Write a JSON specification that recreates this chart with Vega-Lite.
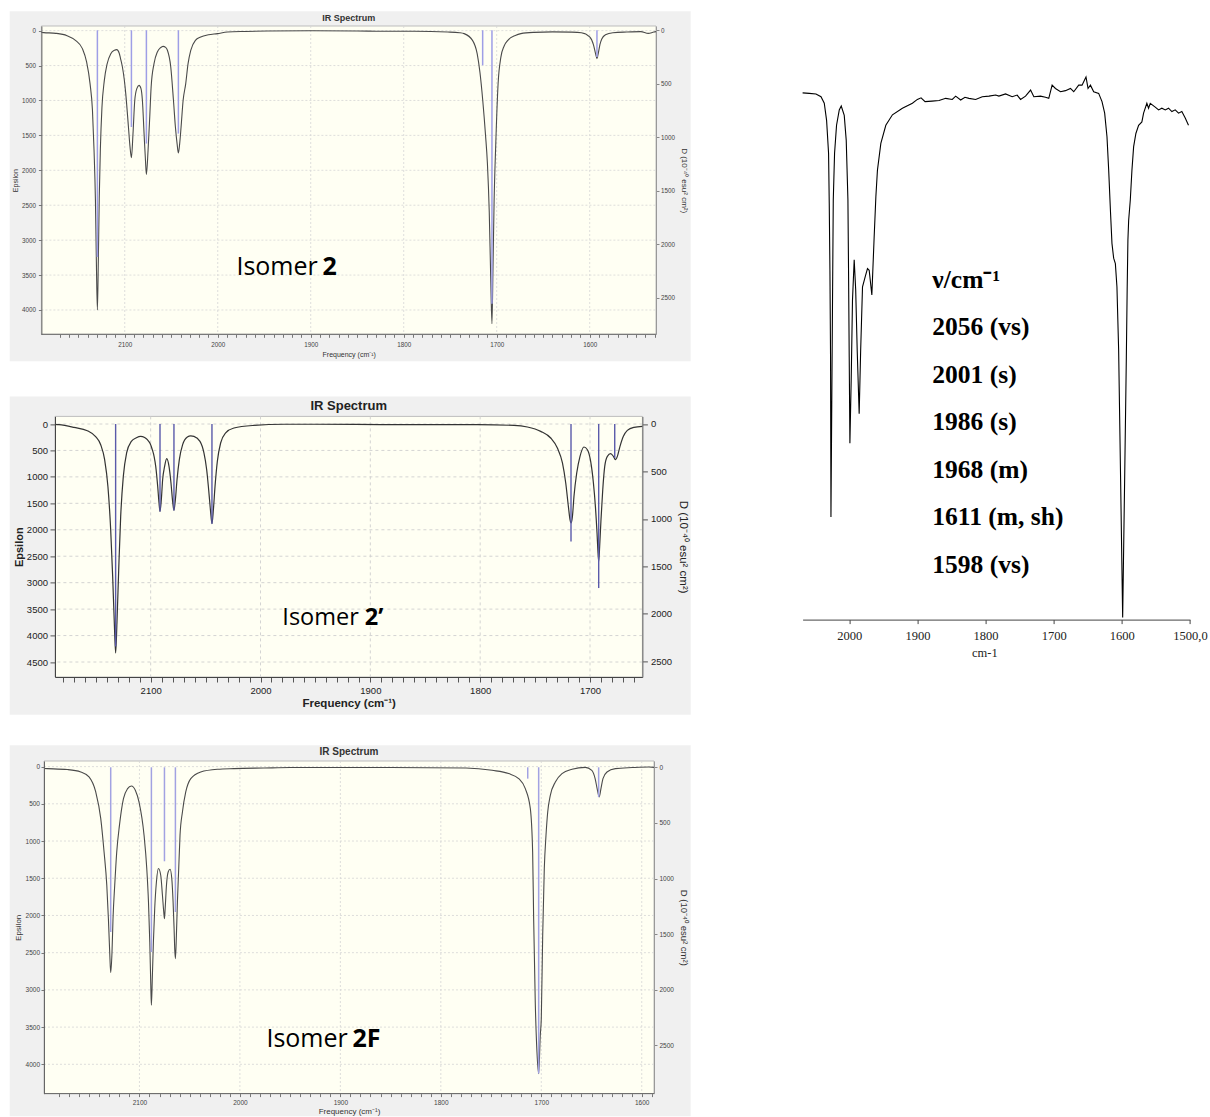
{
  "$schema": "https://vega.github.io/schema/vega-lite/v6.json",
  "background": "white",
  "padding": {"left": 9, "top": 11, "right": 0, "bottom": 0},
  "config": {
    "view": {"stroke": null},
    "axis": {"labelFont": "Liberation Sans", "titleFont": "Liberation Sans"},
    "title": {"font": "Liberation Sans"}
  },
  "datasets": {
    "one": [{}],
    "p1c": [
      {"f":2189.6,"eps":26},{"f":2187,"eps":29},{"f":2174,"eps":39},{"f":2162,"eps":72},{"f":2153,"eps":139},{"f":2145.5,"eps":258},{"f":2141,"eps":449},{"f":2137.3,"eps":759},{"f":2134.7,"eps":1141},{"f":2133,"eps":1714},{"f":2131.5,"eps":2430},{"f":2130.4,"eps":3384},{"f":2129.4,"eps":4000},{"f":2128.4,"eps":3300},{"f":2127.4,"eps":2400},{"f":2126.2,"eps":1700},{"f":2124.5,"eps":1100},{"f":2122,"eps":720},{"f":2119,"eps":480},{"f":2115,"eps":330},{"f":2111,"eps":280},{"f":2108.6,"eps":272},{"f":2106,"eps":320},{"f":2104.5,"eps":400},{"f":2102.5,"eps":521},{"f":2100.5,"eps":700},{"f":2098.9,"eps":902},{"f":2096,"eps":1380},{"f":2094.3,"eps":1666},{"f":2092.8,"eps":1820},{"f":2091.1,"eps":1475},{"f":2089.2,"eps":998},{"f":2087,"eps":830},{"f":2084.6,"eps":784},{"f":2082.5,"eps":830},{"f":2081,"eps":998},{"f":2079.2,"eps":1475},{"f":2077.7,"eps":1857},{"f":2076.7,"eps":2060},{"f":2074.9,"eps":1714},{"f":2073.1,"eps":1237},{"f":2071.6,"eps":807},{"f":2068.5,"eps":472},{"f":2064.9,"eps":306},{"f":2061.5,"eps":245},{"f":2058.8,"eps":225},{"f":2056,"eps":240},{"f":2054.1,"eps":282},{"f":2050.5,"eps":521},{"f":2047.6,"eps":998},{"f":2045.5,"eps":1380},{"f":2043.7,"eps":1618},{"f":2042.3,"eps":1753},{"f":2040.9,"eps":1618},{"f":2039.4,"eps":1380},{"f":2037.2,"eps":998},{"f":2034.4,"eps":759},{"f":2031.9,"eps":472},{"f":2029,"eps":282},{"f":2024,"eps":139},{"f":2018.3,"eps":92},{"f":2010,"eps":60},{"f":2000.3,"eps":43},{"f":1989.6,"eps":20},{"f":1970,"eps":12},{"f":1946.6,"eps":6},{"f":1900,"eps":3},{"f":1850,"eps":5},{"f":1824,"eps":10},{"f":1788.6,"eps":10},{"f":1752.7,"eps":20},{"f":1740,"eps":30},{"f":1735,"eps":43},{"f":1726,"eps":140},{"f":1721,"eps":330},{"f":1718,"eps":600},{"f":1715,"eps":1000},{"f":1712,"eps":1500},{"f":1710,"eps":1900},{"f":1708,"eps":2600},{"f":1706.5,"eps":3500},{"f":1705.1,"eps":4198},{"f":1704,"eps":3400},{"f":1702.8,"eps":2450},{"f":1701,"eps":1620},{"f":1698.5,"eps":760},{"f":1695.5,"eps":380},{"f":1692,"eps":220},{"f":1688,"eps":139},{"f":1680,"eps":70},{"f":1674,"eps":43},{"f":1660,"eps":25},{"f":1640,"eps":18},{"f":1620,"eps":22},{"f":1609,"eps":30},{"f":1600,"eps":90},{"f":1596,"eps":200},{"f":1593.5,"eps":340},{"f":1592.2,"eps":401},{"f":1591,"eps":340},{"f":1589,"eps":200},{"f":1587,"eps":120},{"f":1583,"eps":60},{"f":1575,"eps":30},{"f":1560,"eps":20},{"f":1545,"eps":15},{"f":1537,"eps":40},{"f":1531,"eps":20},{"f":1528.7,"eps":15}
    ],
    "p1s": [
      {"f":2129.4,"d":2117},{"f":2092.8,"d":903},{"f":2076.7,"d":1058},{"f":2042.3,"d":965},{"f":1715.1,"d":327},{"f":1705.1,"d":2553},{"f":1592.2,"d":249}
    ],
    "p1gx": [{"v":2100},{"v":2000},{"v":1900},{"v":1800},{"v":1700},{"v":1600}],
    "p1gy": [{"v":0},{"v":500},{"v":1000},{"v":1500},{"v":2000},{"v":2500},{"v":3000},{"v":3500},{"v":4000}],
    "p2c": [
      {"f":2187,"eps":8},{"f":2183.5,"eps":13},{"f":2169.8,"eps":64},{"f":2157.6,"eps":127},{"f":2150.1,"eps":240},{"f":2145.5,"eps":391},{"f":2141.9,"eps":675},{"f":2138.9,"eps":1185},{"f":2136.4,"eps":2000},{"f":2134.6,"eps":2881},{"f":2133.1,"eps":3763},{"f":2131.9,"eps":4330},{"f":2130.7,"eps":3763},{"f":2129.1,"eps":2755},{"f":2127.3,"eps":1747},{"f":2124.9,"eps":991},{"f":2121.9,"eps":548},{"f":2117.6,"eps":329},{"f":2113,"eps":260},{"f":2109.1,"eps":234},{"f":2105.5,"eps":255},{"f":2103,"eps":297},{"f":2100.5,"eps":370},{"f":2098.5,"eps":486},{"f":2096.8,"eps":620},{"f":2095.4,"eps":802},{"f":2093.6,"eps":1180},{"f":2092.4,"eps":1494},{"f":2091.5,"eps":1652},{"f":2090.3,"eps":1431},{"f":2089.1,"eps":1053},{"f":2087.3,"eps":802},{"f":2085.4,"eps":656},{"f":2083.3,"eps":802},{"f":2081.5,"eps":1116},{"f":2080,"eps":1463},{"f":2078.8,"eps":1633},{"f":2077.5,"eps":1431},{"f":2076,"eps":1053},{"f":2073.9,"eps":675},{"f":2070.9,"eps":391},{"f":2066.6,"eps":246},{"f":2063.5,"eps":225},{"f":2060.6,"eps":234},{"f":2055.1,"eps":329},{"f":2051.5,"eps":548},{"f":2049,"eps":864},{"f":2047.2,"eps":1242},{"f":2045.6,"eps":1620},{"f":2044.2,"eps":1885},{"f":2042.9,"eps":1620},{"f":2041.4,"eps":1180},{"f":2039.3,"eps":707},{"f":2036.3,"eps":359},{"f":2031.7,"eps":170},{"f":2024.2,"eps":76},{"f":2006,"eps":26},{"f":1978.6,"eps":5},{"f":1950,"eps":5},{"f":1890,"eps":10},{"f":1802.5,"eps":13},{"f":1769.2,"eps":26},{"f":1757,"eps":57},{"f":1744.9,"eps":139},{"f":1735.8,"eps":265},{"f":1729.7,"eps":454},{"f":1725.1,"eps":737},{"f":1722.1,"eps":1115},{"f":1719.7,"eps":1557},{"f":1718.2,"eps":1809},{"f":1717.3,"eps":1872},{"f":1716,"eps":1746},{"f":1714.6,"eps":1368},{"f":1712.1,"eps":927},{"f":1709.1,"eps":612},{"f":1705.5,"eps":435},{"f":1702.4,"eps":486},{"f":1699.4,"eps":706},{"f":1696.9,"eps":1115},{"f":1695.1,"eps":1557},{"f":1693.6,"eps":2061},{"f":1692.7,"eps":2439},{"f":1692.1,"eps":2598},{"f":1691.2,"eps":2313},{"f":1690,"eps":1809},{"f":1688.4,"eps":1242},{"f":1686.6,"eps":801},{"f":1684.2,"eps":612},{"f":1681.2,"eps":561},{"f":1678.7,"eps":612},{"f":1676.9,"eps":675},{"f":1675.1,"eps":612},{"f":1672.7,"eps":423},{"f":1669.6,"eps":233},{"f":1666,"eps":120},{"f":1660,"eps":63},{"f":1652.3,"eps":44}
    ],
    "p2s": [
      {"f":2131.9,"d":2343},{"f":2091.5,"d":921},{"f":2078.8,"d":910},{"f":2044.2,"d":1050},{"f":1717.3,"d":1237},{"f":1692.1,"d":1728},{"f":1677.5,"d":358}
    ],
    "p2gx": [{"v":2100},{"v":2000},{"v":1900},{"v":1800},{"v":1700}],
    "p2gy": [{"v":0},{"v":500},{"v":1000},{"v":1500},{"v":2000},{"v":2500},{"v":3000},{"v":3500},{"v":4000},{"v":4500}],
    "p3c": [
      {"f":2195,"eps":25},{"f":2191.6,"eps":27},{"f":2171.7,"eps":40},{"f":2158.4,"eps":72},{"f":2150.2,"eps":139},{"f":2143.5,"eps":341},{"f":2138.5,"eps":699},{"f":2135.2,"eps":1147},{"f":2132.5,"eps":1595},{"f":2130.9,"eps":2042},{"f":2129.6,"eps":2491},{"f":2128.6,"eps":2768},{"f":2127.3,"eps":2491},{"f":2126.3,"eps":2042},{"f":2124.6,"eps":1595},{"f":2122.6,"eps":1147},{"f":2119.9,"eps":789},{"f":2115.9,"eps":430},{"f":2112,"eps":300},{"f":2108,"eps":261},{"f":2104,"eps":320},{"f":2100.4,"eps":476},{"f":2095.4,"eps":923},{"f":2092.7,"eps":1370},{"f":2091,"eps":1819},{"f":2089.7,"eps":2357},{"f":2088.7,"eps":2938},{"f":2088.1,"eps":3207},{"f":2087.1,"eps":2804},{"f":2086.1,"eps":2357},{"f":2084.8,"eps":1908},{"f":2083.1,"eps":1550},{"f":2081.1,"eps":1370},{"f":2078.8,"eps":1460},{"f":2077.1,"eps":1729},{"f":2075.8,"eps":1953},{"f":2075.1,"eps":2042},{"f":2074.4,"eps":1908},{"f":2073.1,"eps":1595},{"f":2071.4,"eps":1416},{"f":2069.5,"eps":1380},{"f":2067.8,"eps":1505},{"f":2066.5,"eps":1819},{"f":2065.5,"eps":2177},{"f":2064.9,"eps":2445},{"f":2064.2,"eps":2580},{"f":2063.2,"eps":2267},{"f":2062.2,"eps":1819},{"f":2060.9,"eps":1370},{"f":2059.6,"eps":923},{"f":2057.2,"eps":610},{"f":2053.9,"eps":341},{"f":2048.9,"eps":161},{"f":2039,"eps":72},{"f":2022.4,"eps":36},{"f":2005.8,"eps":27},{"f":1976,"eps":19},{"f":1950,"eps":13},{"f":1850,"eps":13},{"f":1775,"eps":19},{"f":1749,"eps":50},{"f":1732.5,"eps":94},{"f":1722.5,"eps":161},{"f":1715.9,"eps":296},{"f":1710.9,"eps":564},{"f":1708.6,"eps":1147},{"f":1707.6,"eps":2042},{"f":1706,"eps":3163},{"f":1704.3,"eps":3835},{"f":1702.6,"eps":4125},{"f":1701,"eps":3610},{"f":1700,"eps":3386},{"f":1698.6,"eps":2267},{"f":1697,"eps":1370},{"f":1695.3,"eps":923},{"f":1693.6,"eps":610},{"f":1691,"eps":386},{"f":1686,"eps":207},{"f":1679.4,"eps":94},{"f":1669.4,"eps":36},{"f":1656.2,"eps":10},{"f":1649.7,"eps":50},{"f":1646.4,"eps":161},{"f":1644.4,"eps":296},{"f":1642.3,"eps":408},{"f":1640.6,"eps":296},{"f":1638.6,"eps":161},{"f":1634.6,"eps":72},{"f":1626.3,"eps":27},{"f":1609.4,"eps":13},{"f":1592.8,"eps":5},{"f":1587.8,"eps":10}
    ],
    "p3s": [
      {"f":2128.6,"d":1481},{"f":2088.1,"d":1661},{"f":2075.1,"d":845},{"f":2064.2,"d":1301},{"f":1713.5,"d":102},{"f":1702.6,"d":2754},{"f":1642.9,"d":267}
    ],
    "p3gx": [{"v":2100},{"v":2000},{"v":1900},{"v":1800},{"v":1700},{"v":1600}],
    "p3gy": [{"v":0},{"v":500},{"v":1000},{"v":1500},{"v":2000},{"v":2500},{"v":3000},{"v":3500},{"v":4000}],
    "exp": [
      {"f":2068.4,"t":95.9},{"f":2058.6,"t":95.8},{"f":2048.8,"t":95.7},{"f":2041.4,"t":95.2},{"f":2036.6,"t":94.0},{"f":2033.2,"t":90.9},{"f":2030.3,"t":84.9},{"f":2029.3,"t":75.8},{"f":2028.3,"t":63.6},{"f":2027.4,"t":47.8},{"f":2026.8,"t":18.7},{"f":2024.5,"t":58.2},{"f":2023.4,"t":76.4},{"f":2021.5,"t":84.9},{"f":2018.6,"t":90.0},{"f":2014.6,"t":92.8},{"f":2011.7,"t":93.5},{"f":2007.3,"t":91.8},{"f":2004.4,"t":87.3},{"f":2001.9,"t":76.4},{"f":2001.0,"t":63.6},{"f":2000.0,"t":47.8},{"f":1999.0,"t":32.1},{"f":1997.1,"t":43.6},{"f":1995.2,"t":58.2},{"f":1992.7,"t":65.5},{"f":1990.5,"t":60.0},{"f":1988.3,"t":49.1},{"f":1985.4,"t":37.5},{"f":1983.2,"t":49.1},{"f":1980.5,"t":60.6},{"f":1976.6,"t":62.4},{"f":1973.2,"t":63.9},{"f":1970.7,"t":63.6},{"f":1966.8,"t":59.1},{"f":1963.4,"t":69.7},{"f":1960.9,"t":77.0},{"f":1958.6,"t":81.8},{"f":1953.6,"t":86.7},{"f":1946.3,"t":90.0},{"f":1936.6,"t":91.9},{"f":1922.0,"t":93.1},{"f":1907.3,"t":94.0},{"f":1900.0,"t":94.7},{"f":1894.6,"t":95.0},{"f":1888.7,"t":94.3},{"f":1878.5,"t":94.4},{"f":1868.2,"t":94.5},{"f":1858.4,"t":94.9},{"f":1848.8,"t":94.7},{"f":1843.8,"t":95.3},{"f":1836.5,"t":94.6},{"f":1830.2,"t":95.1},{"f":1824.3,"t":94.9},{"f":1814.5,"t":94.7},{"f":1804.8,"t":95.2},{"f":1795.0,"t":95.3},{"f":1785.2,"t":95.5},{"f":1780.4,"t":95.3},{"f":1770.6,"t":95.7},{"f":1760.9,"t":95.2},{"f":1753.6,"t":95.5},{"f":1748.6,"t":94.7},{"f":1741.3,"t":95.3},{"f":1733.9,"t":96.4},{"f":1729.1,"t":95.2},{"f":1719.3,"t":95.3},{"f":1712.0,"t":95.1},{"f":1707.2,"t":94.9},{"f":1702.3,"t":97.3},{"f":1697.4,"t":96.7},{"f":1690.0,"t":96.1},{"f":1682.7,"t":96.3},{"f":1675.4,"t":96.7},{"f":1670.6,"t":96.1},{"f":1663.3,"t":97.3},{"f":1658.4,"t":97.3},{"f":1652.6,"t":98.8},{"f":1649.6,"t":96.7},{"f":1646.1,"t":97.3},{"f":1641.3,"t":96.1},{"f":1634.0,"t":95.8},{"f":1629.1,"t":94.3},{"f":1625.2,"t":92.2},{"f":1621.8,"t":87.9},{"f":1619.3,"t":81.8},{"f":1616.8,"t":74.6},{"f":1614.5,"t":68.5},{"f":1612.0,"t":65.8},{"f":1609.5,"t":64.8},{"f":1607.2,"t":60.6},{"f":1604.7,"t":49.1},{"f":1601.8,"t":25.4},{"f":1598.8,"t":0.4},{"f":1595.9,"t":25.4},{"f":1593.4,"t":47.8},{"f":1592.2,"t":60.0},{"f":1591.1,"t":69.1},{"f":1590.0,"t":72.7},{"f":1587.6,"t":76.4},{"f":1585.2,"t":81.8},{"f":1582.7,"t":86.1},{"f":1579.4,"t":88.5},{"f":1575.4,"t":90.0},{"f":1570.6,"t":90.6},{"f":1568.1,"t":92.2},{"f":1563.3,"t":94.0},{"f":1560.8,"t":93.1},{"f":1558.3,"t":94.0},{"f":1551.0,"t":93.3},{"f":1546.1,"t":92.8},{"f":1541.3,"t":93.1},{"f":1536.3,"t":92.8},{"f":1531.5,"t":93.1},{"f":1526.6,"t":92.5},{"f":1521.7,"t":92.8},{"f":1516.8,"t":92.2},{"f":1512.0,"t":92.5},{"f":1507.0,"t":91.3},{"f":1502.2,"t":90.0}
    ]
  },
  "hconcat": [
    {
      "vconcat": [
        {
          "vconcat": [
            {
              "width": 601,
              "height": 308.3,
              "title": {"text": "IR Spectrum", "frame": "group", "anchor": "middle", "orient": "top", "offset": -18.7, "dx": -6.8, "baseline": "alphabetic", "fontSize": 9, "fontWeight": "bold", "color": "#333333"},
              "layer": [
                {
                  "layer": [
                    {"data": {"name": "one"}, "mark": {"type": "rect", "fill": "#F0F0F0"}, "encoding": {"x": {"datum": 2223.7, "type": "quantitative", "axis": null}, "x2": {"datum": 1491.4}, "y": {"datum": -276.4, "type": "quantitative", "axis": null}, "y2": {"datum": 4734.5}}},
                    {"data": {"name": "one"}, "mark": {"type": "rect", "fill": "#FFFFF3", "stroke": "#BDBDBD", "strokeWidth": 1}, "encoding": {"x": {"datum": 2189.6, "type": "quantitative", "axis": null}, "x2": {"datum": 1528.7}, "y": {"datum": -66, "type": "quantitative", "axis": null}, "y2": {"datum": 4348}}},
                    {"data": {"name": "p1gx"}, "mark": {"type": "rule", "stroke": "#D6D6D6", "strokeDash": [2, 2], "strokeWidth": 0.8}, "encoding": {"x": {"field": "v", "type": "quantitative", "axis": null}}},
                    {"data": {"name": "p1gy"}, "mark": {"type": "rule", "stroke": "#D6D6D6", "strokeDash": [2, 2], "strokeWidth": 0.8}, "encoding": {"x": {"datum": 2189.6, "type": "quantitative", "axis": null}, "x2": {"datum": 1528.7}, "y": {"field": "v", "type": "quantitative", "axis": null}}},
                    {"data": {"name": "one"}, "mark": {"type": "rule", "stroke": "#666666", "strokeWidth": 1}, "encoding": {"x": {"datum": 2189.6, "type": "quantitative", "axis": null}, "x2": {"datum": 1528.7}, "y": {"datum": 4348, "type": "quantitative", "axis": null}}},
                    {
                      "data": {"name": "p1c"},
                      "mark": {"type": "line", "interpolate": "monotone", "stroke": "#4A4A4A", "strokeWidth": 1.1},
                      "encoding": {
                        "x": {"field": "f", "type": "quantitative", "scale": {"domain": [1528.7, 2174.98], "reverse": true, "nice": false, "zero": false},
                          "axis": {"orient": "bottom", "domain": false, "values": [2180,2170,2160,2150,2140,2130,2120,2110,2100,2090,2080,2070,2060,2050,2040,2030,2020,2010,2000,1990,1980,1970,1960,1950,1940,1930,1920,1910,1900,1890,1880,1870,1860,1850,1840,1830,1820,1810,1800,1790,1780,1770,1760,1750,1740,1730,1720,1710,1700,1690,1680,1670,1660,1650,1640,1630,1620,1610,1600,1590,1580,1570,1560,1550,1540,1530],
                            "format": "d", "labelExpr": "datum.value % 100 === 0 ? datum.label : ''", "labelOverlap": false, "labelFlush": false, "grid": false, "tickSize": 3, "tickColor": "#777777", "labelFontSize": 6.3, "labelColor": "#444444", "labelPadding": 4, "title": "Frequency (cm⁻¹)", "titleX": 293.7, "titleFontSize": 7, "titleFontWeight": "normal", "titleColor": "#333333", "titlePadding": 3, "zindex": 1}},
                        "y": {"field": "eps", "type": "quantitative", "scale": {"domain": [-66, 4348], "reverse": true, "nice": false, "zero": false},
                          "axis": {"orient": "left", "offset": 13.6, "values": [0,500,1000,1500,2000,2500,3000,3500,4000], "format": "d", "labelOverlap": false, "grid": false, "tickSize": 3, "tickColor": "#777777", "domainColor": "#666666", "labelFontSize": 6.3, "labelColor": "#444444", "labelPadding": 3, "title": "Epsilon", "titleFontSize": 7, "titleFontWeight": "normal", "titleColor": "#333333", "titlePadding": 3, "zindex": 1}}
                      }
                    },
                    {"data": {"name": "one"}, "mark": {"type": "text", "font": "Open Sans", "fontSize": 25, "align": "left", "baseline": "alphabetic", "color": "#000000"}, "encoding": {"x": {"datum": 1979.9, "type": "quantitative", "axis": null}, "y": {"datum": 3503, "type": "quantitative", "axis": null}, "text": {"value": "Isomer"}}},
                    {"data": {"name": "one"}, "mark": {"type": "text", "font": "Open Sans", "fontSize": 25, "fontWeight": "bold", "align": "left", "baseline": "alphabetic", "dx": 86, "color": "#000000"}, "encoding": {"x": {"datum": 1979.9, "type": "quantitative", "axis": null}, "y": {"datum": 3503, "type": "quantitative", "axis": null}, "text": {"value": "2"}}}
                  ],
                  "resolve": {"axis": {"x": "independent", "y": "independent"}}
                },
                {
                  "data": {"name": "p1s"},
                  "mark": {"type": "rule", "stroke": "#9E9EE6", "strokeWidth": 1.5},
                  "encoding": {
                    "x": {"field": "f", "type": "quantitative", "axis": null},
                    "y": {"field": "d", "type": "quantitative", "scale": {"domain": [-40, 2839], "reverse": true, "nice": false, "zero": false},
                      "axis": {"orient": "right", "values": [0,500,1000,1500,2000,2500], "format": "d", "grid": false, "tickSize": 3, "tickColor": "#888888", "domainColor": "#999999", "labelFontSize": 6.3, "labelColor": "#444444", "labelPadding": 1.5, "title": "D (10⁻⁴⁰ esu² cm²)", "titleFontSize": 8, "titleFontWeight": "normal", "titleColor": "#333333", "titlePadding": 5, "zindex": 1}},
                    "y2": {"datum": 0}
                  }
                }
              ],
              "resolve": {"scale": {"y": "independent"}, "axis": {"x": "independent", "y": "independent"}}
            },
            {
              "width": 587.4,
              "height": 260.6,
              "title": {"text": "IR Spectrum", "frame": "group", "anchor": "middle", "orient": "top", "offset": -26.3, "baseline": "alphabetic", "fontSize": 13, "fontWeight": "bold", "color": "#222222"},
              "layer": [
                {
                  "layer": [
                    {"data": {"name": "one"}, "mark": {"type": "rect", "fill": "#F0F0F0"}, "encoding": {"x": {"datum": 2228.3, "type": "quantitative", "axis": null}, "x2": {"datum": 1608.3}, "y": {"datum": -521.9, "type": "quantitative", "axis": null}, "y2": {"datum": 5496.4}}},
                    {"data": {"name": "one"}, "mark": {"type": "rect", "fill": "#FFFFF3", "stroke": "#BDBDBD", "strokeWidth": 1}, "encoding": {"x": {"datum": 2187.1, "type": "quantitative", "axis": null}, "x2": {"datum": 1652.3}, "y": {"datum": -143.7, "type": "quantitative", "axis": null}, "y2": {"datum": 4783.6}}},
                    {"data": {"name": "p2gx"}, "mark": {"type": "rule", "stroke": "#CFCFCF", "strokeDash": [3, 3], "strokeWidth": 0.9}, "encoding": {"x": {"field": "v", "type": "quantitative", "axis": null}}},
                    {"data": {"name": "p2gy"}, "mark": {"type": "rule", "stroke": "#CFCFCF", "strokeDash": [3, 3], "strokeWidth": 0.9}, "encoding": {"y": {"field": "v", "type": "quantitative", "axis": null}}},
                    {
                      "data": {"name": "p2c"},
                      "mark": {"type": "line", "interpolate": "monotone", "stroke": "#333333", "strokeWidth": 1.2},
                      "encoding": {
                        "x": {"field": "f", "type": "quantitative", "scale": {"domain": [1652.3, 2187.1], "reverse": true, "nice": false, "zero": false},
                          "axis": {"orient": "bottom", "values": [2180,2170,2160,2150,2140,2130,2120,2110,2100,2090,2080,2070,2060,2050,2040,2030,2020,2010,2000,1990,1980,1970,1960,1950,1940,1930,1920,1910,1900,1890,1880,1870,1860,1850,1840,1830,1820,1810,1800,1790,1780,1770,1760,1750,1740,1730,1720,1710,1700,1690,1680,1670,1660],
                            "format": "d", "labelExpr": "datum.value % 100 === 0 ? datum.label : ''", "labelOverlap": false, "labelFlush": false, "grid": false, "tickSize": 5, "tickColor": "#555555", "domainColor": "#444444", "labelFontSize": 9.5, "labelColor": "#222222", "labelPadding": 3, "title": "Frequency (cm⁻¹)", "titleFontSize": 11.5, "titleFontWeight": "bold", "titleColor": "#222222", "titlePadding": 3, "zindex": 1}},
                        "y": {"field": "eps", "type": "quantitative", "scale": {"domain": [-143.7, 4783.6], "reverse": true, "nice": false, "zero": false},
                          "axis": {"orient": "left", "values": [0,500,1000,1500,2000,2500,3000,3500,4000,4500], "format": "d", "labelOverlap": false, "grid": false, "tickSize": 5, "tickColor": "#555555", "domainColor": "#444444", "labelFontSize": 9.5, "labelColor": "#222222", "labelPadding": 2.5, "title": "Epsilon", "titleFontSize": 11, "titleFontWeight": "bold", "titleColor": "#222222", "titlePadding": 2, "zindex": 1}}
                      }
                    },
                    {"data": {"name": "one"}, "mark": {"type": "text", "font": "Open Sans", "fontSize": 23.5, "align": "left", "baseline": "alphabetic", "color": "#000000"}, "encoding": {"x": {"datum": 1980.1, "type": "quantitative", "axis": null}, "y": {"datum": 3795, "type": "quantitative", "axis": null}, "text": {"value": "Isomer"}}},
                    {"data": {"name": "one"}, "mark": {"type": "text", "font": "Open Sans", "fontSize": 23.5, "fontWeight": "bold", "align": "left", "baseline": "alphabetic", "dx": 82.5, "color": "#000000"}, "encoding": {"x": {"datum": 1980.1, "type": "quantitative", "axis": null}, "y": {"datum": 3795, "type": "quantitative", "axis": null}, "text": {"value": "2’"}}}
                  ],
                  "resolve": {"axis": {"x": "independent", "y": "independent"}}
                },
                {
                  "data": {"name": "p2s"},
                  "mark": {"type": "rule", "stroke": "#5A5AAA", "strokeWidth": 1.4},
                  "encoding": {
                    "x": {"field": "f", "type": "quantitative", "axis": null},
                    "y": {"field": "d", "type": "quantitative", "scale": {"domain": [-80, 2665], "reverse": true, "nice": false, "zero": false},
                      "axis": {"orient": "right", "values": [0,500,1000,1500,2000,2500], "format": "d", "grid": false, "tickSize": 5, "tickColor": "#555555", "domainColor": "#666666", "labelFontSize": 9.5, "labelColor": "#222222", "labelPadding": 3, "title": "D (10⁻⁴⁰ esu² cm²)", "titleFontSize": 11.5, "titleFontWeight": "normal", "titleColor": "#222222", "titlePadding": 6, "zindex": 1}},
                    "y2": {"datum": 0}
                  }
                }
              ],
              "resolve": {"scale": {"y": "independent"}, "axis": {"x": "independent", "y": "independent"}}
            }
          ],
          "spacing": 33.4
        },
        {
          "width": 599,
          "height": 332.6,
          "title": {"text": "IR Spectrum", "frame": "group", "anchor": "middle", "orient": "top", "offset": -19.9, "dx": -5.5, "baseline": "alphabetic", "fontSize": 10, "fontWeight": "bold", "color": "#333333"},
          "layer": [
            {
              "layer": [
                {"data": {"name": "one"}, "mark": {"type": "rect", "fill": "#F0F0F0"}, "encoding": {"x": {"datum": 2229.1, "type": "quantitative", "axis": null}, "x2": {"datum": 1551.3}, "y": {"datum": -286.1, "type": "quantitative", "axis": null}, "y2": {"datum": 4698.4}}},
                {"data": {"name": "one"}, "mark": {"type": "rect", "fill": "#FFFFF3", "stroke": "#BDBDBD", "strokeWidth": 1}, "encoding": {"x": {"datum": 2195, "type": "quantitative", "axis": null}, "x2": {"datum": 1587.8}, "y": {"datum": -75.2, "type": "quantitative", "axis": null}, "y2": {"datum": 4393.4}}},
                {"data": {"name": "p3gx"}, "mark": {"type": "rule", "stroke": "#D6D6D6", "strokeDash": [2, 2], "strokeWidth": 0.8}, "encoding": {"x": {"field": "v", "type": "quantitative", "axis": null}}},
                {"data": {"name": "p3gy"}, "mark": {"type": "rule", "stroke": "#D6D6D6", "strokeDash": [2, 2], "strokeWidth": 0.8}, "encoding": {"x": {"datum": 2195, "type": "quantitative", "axis": null}, "x2": {"datum": 1587.8}, "y": {"field": "v", "type": "quantitative", "axis": null}}},
                {"data": {"name": "one"}, "mark": {"type": "rule", "stroke": "#666666", "strokeWidth": 1}, "encoding": {"x": {"datum": 2195, "type": "quantitative", "axis": null}, "x2": {"datum": 1587.8}, "y": {"datum": 4393.4, "type": "quantitative", "axis": null}}},
                {
                  "data": {"name": "p3c"},
                  "mark": {"type": "line", "interpolate": "monotone", "stroke": "#4A4A4A", "strokeWidth": 1.1},
                  "encoding": {
                    "x": {"field": "f", "type": "quantitative", "scale": {"domain": [1587.8, 2184.05], "reverse": true, "nice": false, "zero": false},
                      "axis": {"orient": "bottom", "domain": false, "values": [2190,2180,2170,2160,2150,2140,2130,2120,2110,2100,2090,2080,2070,2060,2050,2040,2030,2020,2010,2000,1990,1980,1970,1960,1950,1940,1930,1920,1910,1900,1890,1880,1870,1860,1850,1840,1830,1820,1810,1800,1790,1780,1770,1760,1750,1740,1730,1720,1710,1700,1690,1680,1670,1660,1650,1640,1630,1620,1610,1600,1590],
                        "format": "d", "labelExpr": "datum.value % 100 === 0 ? datum.label : ''", "labelOverlap": false, "labelFlush": false, "grid": false, "tickSize": 3, "tickColor": "#777777", "labelFontSize": 6.5, "labelColor": "#444444", "labelPadding": 3, "title": "Frequency (cm⁻¹)", "titleX": 294, "titleFontSize": 8, "titleFontWeight": "normal", "titleColor": "#333333", "titlePadding": 1, "zindex": 1}},
                    "y": {"field": "eps", "type": "quantitative", "scale": {"domain": [-75.2, 4393.4], "reverse": true, "nice": false, "zero": false},
                      "axis": {"orient": "left", "offset": 11, "values": [0,500,1000,1500,2000,2500,3000,3500,4000], "format": "d", "labelOverlap": false, "grid": false, "tickSize": 3, "tickColor": "#777777", "domainColor": "#666666", "labelFontSize": 6.5, "labelColor": "#444444", "labelPadding": 1.5, "title": "Epsilon", "titleFontSize": 8, "titleFontWeight": "normal", "titleColor": "#333333", "titlePadding": 3, "zindex": 1}}
                  }
                },
                {"data": {"name": "one"}, "mark": {"type": "text", "font": "Open Sans", "fontSize": 25, "align": "left", "baseline": "alphabetic", "color": "#000000"}, "encoding": {"x": {"datum": 1973.6, "type": "quantitative", "axis": null}, "y": {"datum": 3767, "type": "quantitative", "axis": null}, "text": {"value": "Isomer"}}},
                {"data": {"name": "one"}, "mark": {"type": "text", "font": "Open Sans", "fontSize": 25, "fontWeight": "bold", "align": "left", "baseline": "alphabetic", "dx": 86, "color": "#000000"}, "encoding": {"x": {"datum": 1973.6, "type": "quantitative", "axis": null}, "y": {"datum": 3767, "type": "quantitative", "axis": null}, "text": {"value": "2F"}}}
              ],
              "resolve": {"axis": {"x": "independent", "y": "independent"}}
            },
            {
              "data": {"name": "p3s"},
              "mark": {"type": "rule", "stroke": "#A2A2E2", "strokeWidth": 1.5},
              "encoding": {
                "x": {"field": "f", "type": "quantitative", "axis": null},
                "y": {"field": "d", "type": "quantitative", "scale": {"domain": [-56.7, 2934], "reverse": true, "nice": false, "zero": false},
                  "axis": {"orient": "right", "values": [0,500,1000,1500,2000,2500], "format": "d", "grid": false, "tickSize": 3, "tickColor": "#888888", "domainColor": "#999999", "labelFontSize": 6.5, "labelColor": "#444444", "labelPadding": 2, "title": "D (10⁻⁴⁰ esu² cm²)", "titleFontSize": 9.5, "titleFontWeight": "normal", "titleColor": "#333333", "titlePadding": 5, "zindex": 1}},
                "y2": {"datum": 0}
              }
            }
          ],
          "resolve": {"scale": {"y": "independent"}, "axis": {"x": "independent", "y": "independent"}}
        }
      ],
      "spacing": 30
    },
    {
      "width": 387.4,
      "height": 593.6,
      "layer": [
        {
          "data": {"name": "exp"},
          "mark": {"type": "line", "stroke": "#000000", "strokeWidth": 1.1},
          "encoding": {
            "x": {"field": "f", "type": "quantitative", "scale": {"domain": [1500, 2068.4], "reverse": true, "nice": false, "zero": false},
              "axis": {"orient": "bottom", "values": [2000, 1900, 1800, 1700, 1600, 1500], "format": "d", "labelExpr": "datum.value === 1500 ? '1500,0' : datum.label", "labelFont": "Liberation Serif", "labelFontSize": 12.5, "labelColor": "#222222", "labelPadding": 6, "labelFlush": false, "labelOverlap": false, "tickSize": 4, "tickColor": "#444444", "domainColor": "#444444", "grid": false, "title": "cm-1", "titleFont": "Liberation Serif", "titleFontSize": 12.5, "titleFontWeight": "normal", "titleColor": "#222222", "titleX": 181.7, "titleY": 32.4, "titleBaseline": "middle", "titleAlign": "center"}},
            "y": {"field": "t", "type": "quantitative", "scale": {"domain": [0, 108.07], "nice": false, "zero": false}, "axis": null}
          }
        },
        {
          "data": {"name": "one"},
          "mark": {"type": "text", "font": "Liberation Serif", "fontWeight": "bold", "fontSize": 25.5, "align": "left", "baseline": "alphabetic", "lineHeight": 47.5, "color": "#000000"},
          "encoding": {
            "x": {"datum": 1878, "type": "quantitative", "axis": null},
            "y": {"datum": 60.44, "type": "quantitative", "axis": null},
            "text": {"value": ["ν/cm⁻¹", "2056 (vs)", "2001 (s)", "1986 (s)", "1968 (m)", "1611 (m, sh)", "1598 (vs)"]}
          }
        }
      ],
      "resolve": {"axis": {"x": "independent", "y": "independent"}}
    }
  ],
  "spacing": 108.6
}
